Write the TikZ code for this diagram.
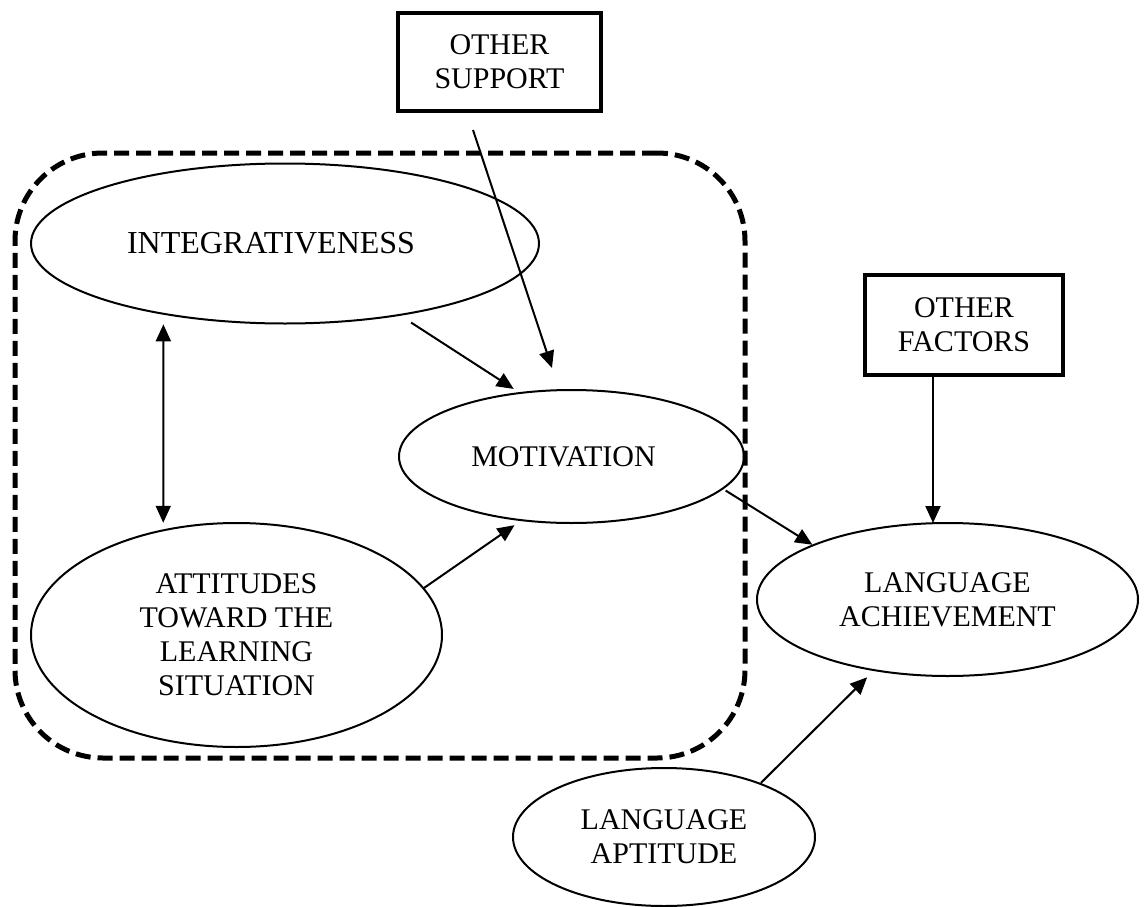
\documentclass[tikz,border=0pt]{standalone}
\usepackage{fontspec}
\setmainfont{Liberation Serif}
\usetikzlibrary{shapes.geometric,arrows.meta}

\tikzset{
  txt/.style={font=\fontsize{30}{34}\selectfont, align=center},
  oval/.style={ellipse, draw, line width=2pt, inner sep=0pt, outer sep=0pt, txt},
  boxnode/.style={rectangle, draw, line width=3.5pt, inner sep=0pt, outer sep=0pt, txt},
  link/.style={line width=2pt, -{Triangle[length=17pt,width=15pt]}},
  twoway/.style={line width=2pt, {Triangle[length=17pt,width=15pt]}-{Triangle[length=17pt,width=15pt]}},
  groupframe/.style={draw, line width=5pt, dash pattern=on 15pt off 7pt,
    rounded corners=88pt, inner sep=0pt, outer sep=0pt},
}

\begin{document}
\begin{tikzpicture}[x=1pt,y=-1pt]
  \useasboundingbox (0,0) rectangle (1146,907);

  % dashed frame around the motivation cluster
  \node[groupframe, minimum width=730pt, minimum height=605pt] (frame) at (380,455.5) {};

  % boxes
  \node[boxnode, minimum width=203pt, minimum height=98pt] (sup) at (499.5,62) {OTHER\\SUPPORT};
  \node[boxnode, minimum width=198pt, minimum height=100pt] (fac) at (964,325) {OTHER\\FACTORS};

  % ellipses
  \node[oval, minimum width=508pt, minimum height=160pt,
        label={[xshift=-14pt, txt, font=\fontsize{32}{34}\selectfont]center:INTEGRATIVENESS}]
        (intg) at (285,243.5) {};
  \node[oval, minimum width=345pt, minimum height=133pt,
        label={[xshift=-8pt, txt]center:MOTIVATION}]
        (motiv) at (571.5,456.5) {};
  \node[oval, minimum width=411pt, minimum height=224pt] (att) at (236.5,635)
        {ATTITUDES\\TOWARD THE\\LEARNING\\SITUATION};
  \node[oval, minimum width=381pt, minimum height=153pt] (ach) at (947.5,599.5)
        {LANGUAGE\\ACHIEVEMENT};
  \node[oval, minimum width=302pt, minimum height=138pt] (apt) at (664,837)
        {LANGUAGE\\APTITUDE};

  % connectors
  \draw[link] ([xshift=-26.5pt,yshift=-19pt]sup.south) -- ([xshift=-19.5pt,yshift=22pt]motiv.north);
  \draw[link, shorten <=14pt, shorten >=7.6pt] (intg.-32.9) -- (motiv.129.4);
  \draw[twoway, shorten <=10.6pt, shorten >=7.6pt] (intg.-150.4) -- (att.125.5);
  \draw[link, shorten >=8.8pt] (att.14.4) -- (motiv.-128.9);
  \draw[link, shorten <=3.7pt, shorten >=1pt] (motiv.-12.2) -- (ach.158.2);
  \draw[link] ([xshift=-31pt]fac.south) -- ([xshift=-14.5pt]ach.north);
  \draw[link, shorten <=1.3pt, shorten >=10.2pt] (apt.29.9) -- (ach.-136.95);
\end{tikzpicture}
\end{document}
